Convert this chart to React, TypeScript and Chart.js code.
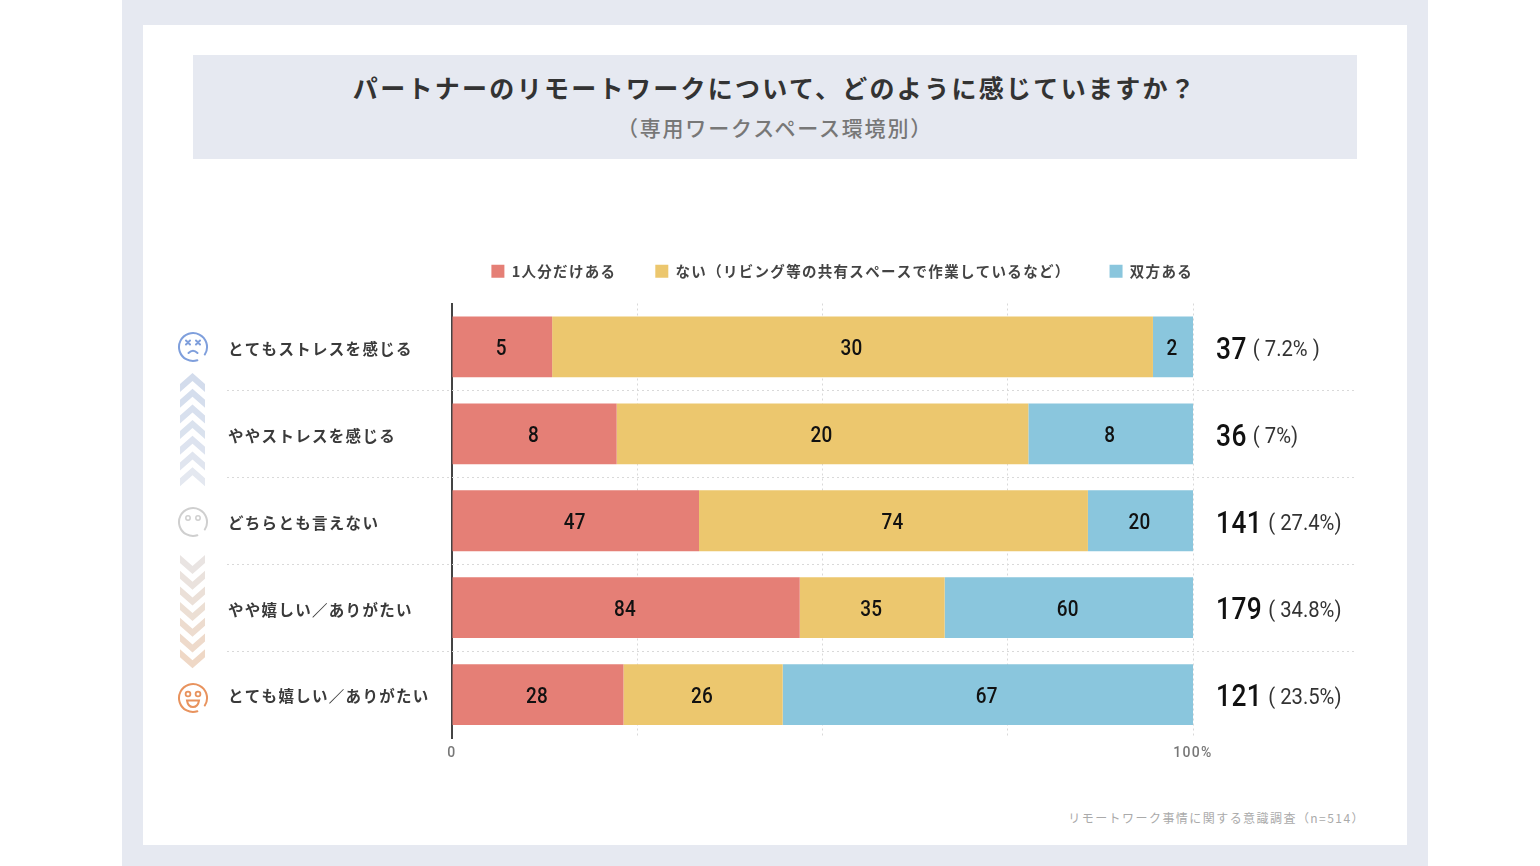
import React, { useEffect, useRef } from "react";
import { Chart, registerables } from "chart.js";

Chart.register(...registerables);

const categories = ["とてもストレスを感じる", "ややストレスを感じる", "どちらとも言えない", "やや嬉しい／ありがたい", "とても嬉しい／ありがたい"];
const seriesNames = ["1人分だけある", "ない（リビング等の共有スペースで作業しているなど）", "双方ある"];
const oneOnly = [5, 8, 47, 84, 28];
const noSpace = [30, 20, 74, 35, 26];
const bothHave = [2, 8, 20, 60, 67];
const shares = ["( 7.2% )", "( 7%)", "( 27.4%)", "( 34.8%)", "( 23.5%)"];
const seriesColors = ["#e57f76", "#ecc76e", "#8ac6dd"];
const titleText = "パートナーのリモートワークについて、どのように感じていますか？";
const subtitleText = "（専用ワークスペース環境別）";
const sourceText = "リモートワーク事情に関する意識調査（n=514）";

const JP = '"Noto Sans CJK JP", "Noto Sans", sans-serif';
const NUM = 'Roboto, sans-serif';

const totals = categories.map((_, i) => oneOnly[i] + noSpace[i] + bothHave[i]);
const toPct = (arr: number[]) => arr.map((v, i) => (v / totals[i]) * 100);

const spacingPlugin = {
  id: "spacing",
  beforeUpdate(chart: any) { chart.ctx.letterSpacing = "1.3px"; },
  beforeDraw(chart: any) { chart.ctx.letterSpacing = "1.3px"; },
};

const legendPlacePlugin = {
  id: "legendPlace",
  afterLayout(chart: any) {
    const l = chart.legend;
    const h = l.bottom - l.top;
    const pad = l.options.labels.padding;
    l.top = 271 - pad - 7;
    l.bottom = l.top + h;
    l.right = chart.chartArea.right + pad;
  },
};

const rowRulesPlugin = {
  id: "rowRules",
  beforeDatasetsDraw(chart: any) {
    const { ctx, scales } = chart;
    ctx.save();
    ctx.strokeStyle = "#d9d9d9";
    ctx.lineWidth = 1;
    ctx.setLineDash([2, 3]);
    for (let i = 0; i < categories.length - 1; i++) {
      const y = Math.round((scales.y.getPixelForValue(i) + scales.y.getPixelForValue(i + 1)) / 2) + 0.5;
      ctx.beginPath();
      ctx.moveTo(227, y);
      ctx.lineTo(1356, y);
      ctx.stroke();
    }
    ctx.restore();
  },
};

function narrowText(ctx: any, text: string, x: number, y: number, sx: number) {
  ctx.save();
  ctx.translate(x, y);
  ctx.scale(sx, 1);
  ctx.fillText(text, 0, 0);
  ctx.restore();
}

const valueLabelsPlugin = {
  id: "valueLabels",
  afterDatasetsDraw(chart: any) {
    const { ctx, scales } = chart;
    ctx.save();
    ctx.letterSpacing = "0.3px";
    ctx.textBaseline = "middle";
    ctx.textAlign = "center";
    ctx.fillStyle = "#111";
    ctx.font = `500 22px ${NUM}`;
    chart.data.datasets.forEach((ds: any, d: number) => {
      chart.getDatasetMeta(d).data.forEach((el: any, i: number) => {
        const p = el.getProps(["x", "base", "y"], true);
        narrowText(ctx, String(ds.rawValues[i]), (p.x + p.base) / 2 - 1, p.y + 2.5, 0.86);
      });
    });
    ctx.textAlign = "left";
    totals.forEach((t, i) => {
      const y = scales.y.getPixelForValue(i) + 4;
      ctx.fillStyle = "#111";
      ctx.font = `500 31px ${NUM}`;
      ctx.letterSpacing = "0.5px";
      const text = String(t);
      narrowText(ctx, text, 1216, y, 0.85);
      const w = ctx.measureText(text).width * 0.85;
      ctx.fillStyle = "#333";
      ctx.font = `400 22px ${NUM}`;
      ctx.letterSpacing = "0px";
      narrowText(ctx, shares[i], 1216 + w + 6, y, 0.92);
    });
    ctx.restore();
  },
};

function Chevrons({ top, up, colors }: { top: number; up: boolean; colors: string[] }) {
  return (
    <svg style={{ position: "absolute", left: 178, top, width: 29, height: 122 }} viewBox="0 0 29 122">
      {colors.map((c, i) => {
        const y = 2 + i * 15.7;
        const d = up
          ? `M2 ${y + 11} L14.5 ${y} L27 ${y + 11} L27 ${y + 19} L14.5 ${y + 8} L2 ${y + 19} Z`
          : `M2 ${y} L14.5 ${y + 11} L27 ${y} L27 ${y + 8} L14.5 ${y + 19} L2 ${y + 8} Z`;
        return <path key={i} d={d} fill={c} />;
      })}
    </svg>
  );
}

function Face({ cy, color, kind }: { cy: number; color: string; kind: "sad" | "flat" | "happy" }) {
  return (
    <svg style={{ position: "absolute", left: 177, top: cy - 16, width: 32, height: 32 }} viewBox="0 0 32 32" fill="none" stroke={color} strokeWidth="2" strokeLinecap="round">
      <circle cx="16" cy="16" r="14" pathLength={100} strokeDasharray="89 11" transform="rotate(72 16 16)" />
      {kind === "sad" && (
        <>
          <path d="M9 9.5 L13 13.5 M13 9.5 L9 13.5 M19 9.5 L23 13.5 M23 9.5 L19 13.5" />
          <path d="M11.5 22 Q16 17.5 20.5 22" />
        </>
      )}
      {kind === "flat" && (
        <>
          <circle cx="11" cy="12" r="2.2" strokeWidth="1.5" />
          <circle cx="21" cy="12" r="2.2" strokeWidth="1.5" />
        </>
      )}
      {kind === "happy" && (
        <>
          <circle cx="11" cy="12" r="2.4" strokeWidth="1.8" />
          <circle cx="21" cy="12" r="2.4" strokeWidth="1.8" />
          <path d="M10 18.5 H22 Q21 25 16 25 Q11 25 10 18.5 Z" />
        </>
      )}
    </svg>
  );
}

export default function App() {
  const ref = useRef<HTMLCanvasElement | null>(null);

  useEffect(() => {
    document.body.style.margin = "0";
    const chart = new Chart(ref.current as HTMLCanvasElement, {
      type: "bar",
      data: {
        labels: categories,
        datasets: [oneOnly, noSpace, bothHave].map((vals, i) => ({
          label: seriesNames[i],
          data: toPct(vals),
          rawValues: vals,
          backgroundColor: seriesColors[i],
          borderWidth: 0,
          barPercentage: 0.7,
          categoryPercentage: 1,
        })) as any,
      },
      options: {
        indexAxis: "y",
        responsive: false,
        animation: false,
        devicePixelRatio: 1,
        layout: { padding: { left: 228, right: 347, top: 240, bottom: 98 } },
        plugins: {
          tooltip: { enabled: false },
          legend: {
            display: true,
            position: "top",
            align: "end",
            labels: {
              boxWidth: 13,
              boxHeight: 13,
              padding: 39,
              color: "#444",
              font: { family: JP, size: 14.5, weight: "700" },
            },
          },
        },
        scales: {
          x: {
            stacked: true,
            min: 0,
            max: 100,
            afterFit(s: any) { s.height = 30; },
            border: { display: false, dash: [2, 3] },
            grid: {
              drawTicks: false,
              color: (c: any) => (c.tick && c.tick.value === 0 ? "transparent" : "#d9d9d9"),
              lineWidth: 1,
            },
            ticks: {
              stepSize: 25,
              maxRotation: 0,
              autoSkip: false,
              padding: 7,
              color: "#777",
              font: { family: NUM, size: 14, weight: "500" },
              callback: (v: any) => (v === 0 ? "0" : v === 100 ? "100%" : ""),
            },
          },
          y: {
            stacked: true,
            afterFit(s: any) { s.width = 224; },
            border: { display: true, color: "#444", width: 2 },
            grid: { display: false },
            ticks: {
              crossAlign: "far",
              color: "#3a3a3a",
              autoSkip: false,
              labelOffset: 2,
              font: { family: JP, size: 15.5, weight: "700" },
            },
          },
        },
      } as any,
      plugins: [spacingPlugin, legendPlacePlugin, rowRulesPlugin, valueLabelsPlugin] as any,
    });
    return () => chart.destroy();
  }, []);

  return (
    <div style={{ position: "fixed", left: 0, top: 0, width: 1540, height: 866, background: "#fff", overflow: "hidden", fontFamily: JP }}>
      <div style={{ position: "absolute", left: 122, top: 0, width: 1306, height: 866, background: "#e6e9f1" }} />
      <div style={{ position: "absolute", left: 143, top: 25, width: 1264, height: 820, background: "#fff" }} />
      <div style={{ position: "absolute", left: 193, top: 55, width: 1164, height: 104, background: "#e6e9f1" }} />
      <div style={{ position: "absolute", left: 193, width: 1164, top: 69, textAlign: "center", fontSize: 25, lineHeight: "36px", fontWeight: 700, letterSpacing: 2.3, color: "#333" }}>{titleText}</div>
      <div style={{ position: "absolute", left: 193, width: 1164, top: 112, textAlign: "center", fontSize: 21, lineHeight: "30px", fontWeight: 500, letterSpacing: 1.8, color: "#777" }}>{subtitleText}</div>
      <div style={{ position: "absolute", right: 175, top: 809, fontSize: 12, lineHeight: "18px", letterSpacing: 1.45, color: "#aaa", whiteSpace: "nowrap" }}>{sourceText}</div>
      <canvas ref={ref} width={1540} height={866} style={{ position: "absolute", left: 0, top: 0 }} />
      <Face cy={347} color="#7f9fdc" kind="sad" />
      <Face cy={522} color="#cfcfcf" kind="flat" />
      <Face cy={698} color="#e8935e" kind="happy" />
      <Chevrons top={371} up colors={["#d3dcec", "#d5deed", "#d8e0ee", "#dae2ee", "#dde3ef", "#e0e5ef", "#e4e8f0"]} />
      <Chevrons top={553} up={false} colors={["#e9e4e2", "#eae2dd", "#ebe0d8", "#ecdfd4", "#eddccf", "#eedacb", "#efd8c6"]} />
    </div>
  );
}
